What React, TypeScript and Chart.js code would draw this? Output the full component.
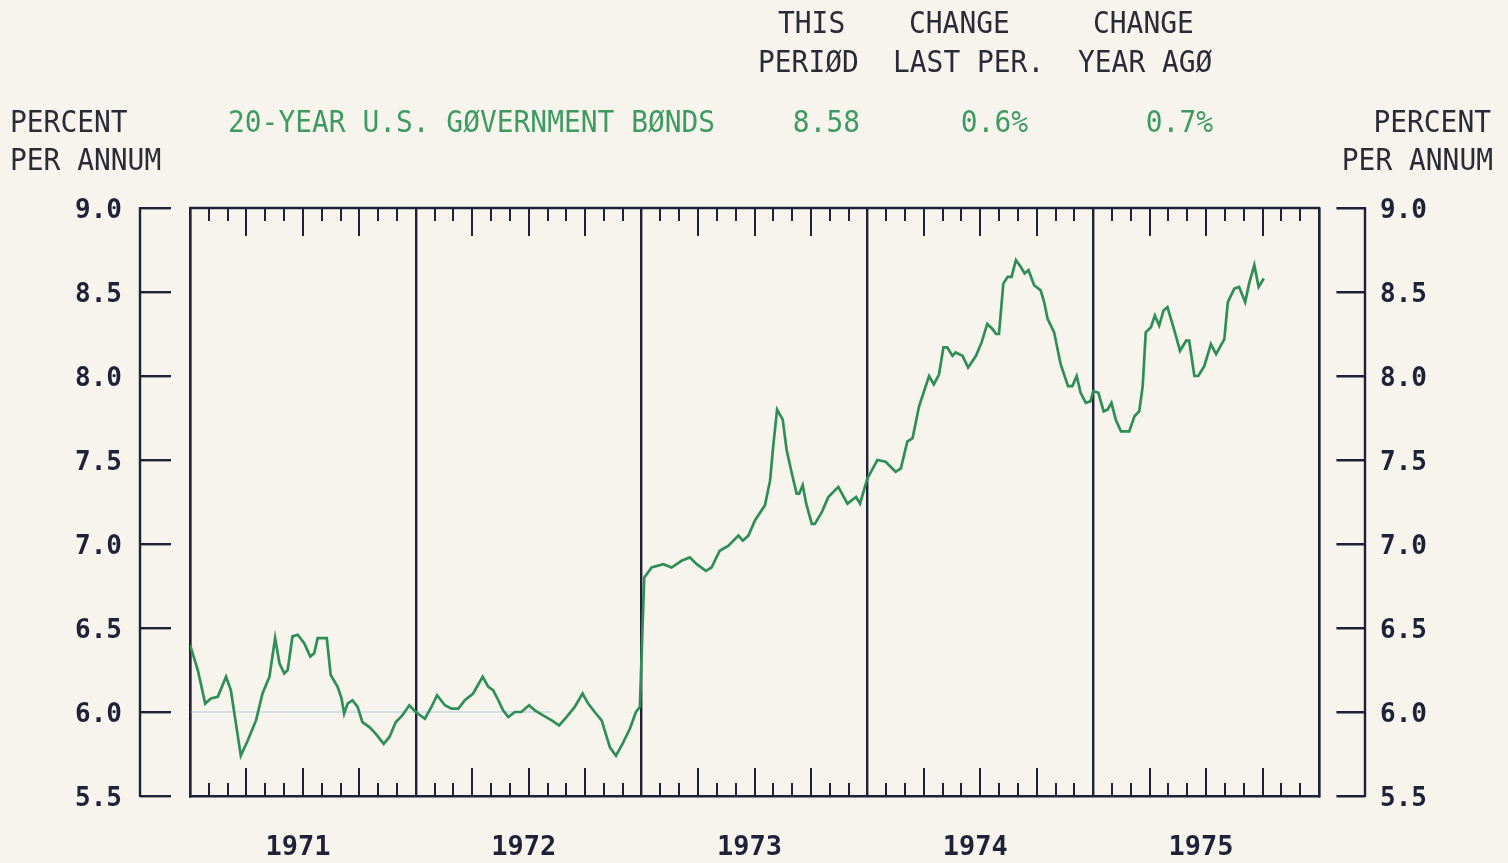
import { useEffect, useRef } from "react";
import { Chart, registerables } from "chart.js";

Chart.register(...registerables);

// ---------------- DATA (week of year, percent per annum) ----------------
const yield1971: [number, number][] = [
  [0, 6.4], [1.8, 6.25], [3.5, 6.05], [4.8, 6.08], [6.4, 6.09], [8.3, 6.21], [9.4, 6.13],
  [11.7, 5.74], [13.3, 5.83], [15.2, 5.95], [16.7, 6.11], [18.3, 6.21], [19.6, 6.44],
  [20.6, 6.29], [21.7, 6.23], [22.5, 6.25], [23.6, 6.45], [24.8, 6.46], [26.3, 6.41],
  [27.7, 6.33], [28.6, 6.35], [29.4, 6.44], [31.5, 6.44], [32.4, 6.22], [34.0, 6.15],
  [34.9, 6.08], [35.5, 5.99], [36.3, 6.05], [37.4, 6.07], [38.6, 6.03], [39.7, 5.94],
  [41.3, 5.91], [42.8, 5.87], [44.6, 5.81], [45.9, 5.85], [47.4, 5.94], [48.9, 5.98],
  [50.5, 6.04],
];
const yield1972: [number, number][] = [
  [0, 6.0], [2.1, 5.96], [3.6, 6.03], [4.9, 6.1], [6.7, 6.04], [8.2, 6.02], [9.8, 6.02],
  [11.3, 6.07], [13.2, 6.11], [15.4, 6.21], [16.7, 6.15], [17.8, 6.13], [19.0, 6.07],
  [20.1, 6.01], [21.3, 5.97], [22.8, 6.0], [24.3, 6.0], [26.1, 6.04], [27.4, 6.01],
  [29.3, 5.98], [31.3, 5.95], [33.0, 5.92], [34.7, 5.97], [36.6, 6.03], [38.4, 6.11],
  [39.7, 6.05], [41.2, 6.0], [42.8, 5.95], [44.7, 5.79], [46.1, 5.74], [47.6, 5.81],
  [49.3, 5.9], [50.7, 6.0], [51.6, 6.03],
];
const yield1973: [number, number][] = [
  [0.6, 6.8], [2.3, 6.86], [5.0, 6.88], [6.9, 6.86], [9.2, 6.9], [11.1, 6.92], [12.7, 6.88],
  [14.8, 6.84], [16.1, 6.86], [18.0, 6.96], [20.0, 6.99], [22.3, 7.05], [23.3, 7.02],
  [24.6, 7.05], [26.1, 7.14], [28.4, 7.23], [29.6, 7.38], [30.3, 7.58], [31.2, 7.8],
  [32.5, 7.74], [33.4, 7.56], [34.6, 7.42], [35.7, 7.3], [36.3, 7.3], [37.1, 7.35],
  [37.9, 7.24], [39.2, 7.12], [39.9, 7.12], [41.5, 7.19], [43.0, 7.28], [45.3, 7.34],
  [47.4, 7.24], [49.4, 7.28], [50.3, 7.24],
];
const yield1974: [number, number][] = [
  [0, 7.39], [2.3, 7.5], [4.2, 7.49], [6.5, 7.43], [7.7, 7.45], [9.2, 7.61], [10.4, 7.63],
  [11.9, 7.82], [14.2, 8.0], [15.3, 7.95], [16.5, 8.01], [17.5, 8.17], [18.4, 8.17],
  [19.6, 8.12], [20.3, 8.14], [21.9, 8.12], [23.2, 8.05], [25.0, 8.12], [26.3, 8.2],
  [27.6, 8.31], [28.8, 8.28], [29.6, 8.25], [30.3, 8.25], [31.3, 8.55], [32.3, 8.59],
  [33.2, 8.59], [34.2, 8.69], [35.3, 8.65], [36.2, 8.61], [37.1, 8.63], [38.4, 8.54],
  [39.9, 8.51], [40.7, 8.44], [41.5, 8.34], [43.0, 8.26], [44.5, 8.07], [46.2, 7.94],
  [47.2, 7.94], [48.2, 8.0], [49.1, 7.9], [50.3, 7.84], [51.4, 7.85],
];
const yield1975: [number, number][] = [
  [0, 7.91], [1.2, 7.9], [2.4, 7.79], [3.3, 7.8], [4.2, 7.84], [5.2, 7.74], [6.4, 7.67],
  [8.3, 7.67], [9.5, 7.76], [10.6, 7.79], [11.4, 7.94], [12.1, 8.26], [13.3, 8.29],
  [14.2, 8.36], [15.2, 8.3], [16.2, 8.39], [17.1, 8.41], [18.7, 8.27], [20.0, 8.15],
  [21.4, 8.21], [22.1, 8.21], [23.3, 8.0], [24.2, 8.0], [25.6, 8.06], [27.1, 8.19],
  [28.3, 8.13], [30.2, 8.22], [31.0, 8.44], [32.5, 8.52], [33.6, 8.53], [35.0, 8.44],
  [35.9, 8.55], [37.1, 8.66], [38.1, 8.53], [39.3, 8.58],
];

const years = [1971, 1972, 1973, 1974, 1975];
const yearSeries = [yield1971, yield1972, yield1973, yield1974, yield1975];
const yTickValues = [5.5, 6.0, 6.5, 7.0, 7.5, 8.0, 8.5, 9.0];
const monthsPerYear = 12;
const guideLevel = 6.0;
const guideSpan = [1971.0, 1972.6];

const headerTitle = "20-YEAR U.S. GØVERNMENT BØNDS";
const columnTop = ["THIS", "CHANGE", "CHANGE"];
const columnBottom = ["PERIØD", "LAST PER.", "YEAR AGØ"];
const columnValues = ["8.58", "0.6%", "0.7%"];
const unitLines = ["PERCENT", "PER ANNUM"];

// ---------------- STYLE ----------------
const PAPER = "#f6f4ec";
const INK = "#1f2136";
const GREEN = "#2f8e57";
const TEXT_GREEN = "#3f9a62";
const TEXT_INK = "#2a2b36";
const MONO = '"DejaVu Sans Mono", monospace';
const AXIS_W = 2.4;

function drawLabel(
  ctx: CanvasRenderingContext2D,
  text: string,
  x: number,
  y: number,
  align: CanvasTextAlign,
  color: string
) {
  ctx.save();
  ctx.font = `30px ${MONO}`;
  ctx.fillStyle = color;
  ctx.textBaseline = "alphabetic";
  ctx.textAlign = align;
  ctx.translate(x, y);
  ctx.scale(0.93, 1);
  ctx.fillText(text, 0, 0);
  ctx.restore();
}

const framePlugin = {
  id: "frame",
  beforeDraw(chart: any) {
    const { ctx, width, height } = chart;
    ctx.save();
    ctx.fillStyle = PAPER;
    ctx.fillRect(0, 0, width, height);
    ctx.restore();
  },
  afterDraw(chart: any) {
    const { ctx, chartArea } = chart;
    const xs = chart.scales.x;
    const yl = chart.scales.y;
    const yr = chart.scales.y2;
    const top = chartArea.top;
    const bottom = chartArea.bottom;
    ctx.save();
    ctx.strokeStyle = INK;
    ctx.lineWidth = AXIS_W;
    // top border of the box
    ctx.beginPath();
    ctx.moveTo(chartArea.left - 1, top);
    ctx.lineTo(chartArea.right + 1, top);
    ctx.stroke();
    // monthly ticks inside the box
    ctx.lineWidth = 2;
    years.forEach((yr0) => {
      for (let m = 1; m < monthsPerYear; m++) {
        const px = Math.round(xs.getPixelForValue(yr0 + m / monthsPerYear));
        const len = m % 3 === 0 ? 28 : 13;
        ctx.beginPath();
        ctx.moveTo(px, bottom);
        ctx.lineTo(px, bottom - len);
        ctx.moveTo(px, top);
        ctx.lineTo(px, top + len);
        ctx.stroke();
      }
    });
    // detached outer axis lines
    ctx.lineWidth = AXIS_W;
    const yTop = yl.getPixelForValue(yTickValues[yTickValues.length - 1]);
    const yBot = yl.getPixelForValue(yTickValues[0]);
    const lx = yl.right - 50;
    const rx = yr.left + 46;
    ctx.beginPath();
    ctx.moveTo(lx, yTop - 1);
    ctx.lineTo(lx, yBot + 1);
    ctx.moveTo(rx, yTop - 1);
    ctx.lineTo(rx, yBot + 1);
    ctx.stroke();
    ctx.restore();

    // header texts
    drawLabel(ctx, columnTop[0], 778, 33, "left", TEXT_INK);
    drawLabel(ctx, columnTop[1], 909, 33, "left", TEXT_INK);
    drawLabel(ctx, columnTop[2], 1093, 33, "left", TEXT_INK);
    drawLabel(ctx, columnBottom[0], 758, 72, "left", TEXT_INK);
    drawLabel(ctx, columnBottom[1], 893, 72, "left", TEXT_INK);
    drawLabel(ctx, columnBottom[2], 1078, 72, "left", TEXT_INK);
    drawLabel(ctx, unitLines[0], 10, 132, "left", TEXT_INK);
    drawLabel(ctx, unitLines[1], 10, 170, "left", TEXT_INK);
    drawLabel(ctx, unitLines[0], 1491, 132, "right", TEXT_INK);
    drawLabel(ctx, unitLines[1], 1493, 170, "right", TEXT_INK);
    drawLabel(ctx, headerTitle, 228, 132, "left", TEXT_GREEN);
    drawLabel(ctx, columnValues[0], 860, 132, "right", TEXT_GREEN);
    drawLabel(ctx, columnValues[1], 1028, 132, "right", TEXT_GREEN);
    drawLabel(ctx, columnValues[2], 1213, 132, "right", TEXT_GREEN);
  },
};

export default function App() {
  const canvasRef = useRef<HTMLCanvasElement | null>(null);

  useEffect(() => {
    document.body.style.margin = "0";
    document.body.style.background = PAPER;
    const canvas = canvasRef.current;
    if (!canvas) return;

    const points = yearSeries.flatMap((series, i) =>
      series.map(([week, value]) => ({ x: years[i] + week / 52, y: value }))
    );
    const guide = guideSpan.map((x) => ({ x, y: guideLevel }));
    const xTickValues: number[] = [];
    years.forEach((y) => xTickValues.push(y, y + 0.5));
    xTickValues.push(years[years.length - 1] + 1);

    const yFont = { family: MONO, size: 26, weight: "bold" as const };

    const chart = new Chart(canvas, {
      type: "line",
      data: {
        datasets: [
          {
            label: "20-YEAR U.S. GOVERNMENT BONDS",
            data: points,
            borderColor: GREEN,
            borderWidth: 2.7,
            pointRadius: 0,
            tension: 0,
            fill: false,
            yAxisID: "y",
          },
          {
            label: "guide",
            data: guide,
            borderColor: "rgba(120,170,205,0.55)",
            borderWidth: 1,
            pointRadius: 0,
            fill: false,
            yAxisID: "y",
          },
        ],
      },
      options: {
        animation: false,
        responsive: false,
        maintainAspectRatio: false,
        layout: { padding: { top: 208, left: 0, right: 0, bottom: 0 } },
        plugins: {
          legend: { display: false },
          tooltip: { enabled: false },
          title: { display: false },
        },
        scales: {
          x: {
            type: "linear",
            position: "bottom",
            min: years[0],
            max: years[years.length - 1] + 1,
            afterBuildTicks: (s: any) => {
              s.ticks = xTickValues.map((value) => ({ value }));
            },
            afterFit: (s: any) => {
              s.height = 67;
            },
            grid: {
              drawOnChartArea: true,
              drawTicks: false,
              color: (c: any) =>
                c.tick && c.tick.value % 1 === 0 ? INK : "rgba(0,0,0,0)",
              lineWidth: AXIS_W,
            },
            border: { display: true, color: INK, width: AXIS_W },
            ticks: {
              autoSkip: false,
              maxRotation: 0,
              padding: 36,
              labelOffset: -5,
              color: INK,
              font: { family: MONO, size: 27, weight: "bold" },
              callback: (v: any) =>
                Number(v) % 1 === 0.5 ? String(Math.floor(Number(v))) : "",
            },
          },
          y: {
            type: "linear",
            position: "left",
            min: yTickValues[0],
            max: yTickValues[yTickValues.length - 1],
            afterBuildTicks: (s: any) => {
              s.ticks = yTickValues.map((value) => ({ value }));
            },
            afterFit: (s: any) => {
              s.width = 190;
            },
            grid: {
              drawOnChartArea: false,
              drawTicks: true,
              tickLength: 50,
              tickBorderDash: [31, 200],
              tickColor: INK,
              tickWidth: AXIS_W,
              color: INK,
              lineWidth: AXIS_W,
            },
            border: { display: true, color: INK, width: AXIS_W },
            ticks: {
              padding: 18,
              labelOffset: 3,
              color: INK,
              font: yFont,
              callback: (v: any) => Number(v).toFixed(1),
            },
          },
          y2: {
            type: "linear",
            position: "right",
            min: yTickValues[0],
            max: yTickValues[yTickValues.length - 1],
            afterBuildTicks: (s: any) => {
              s.ticks = yTickValues.map((value) => ({ value }));
            },
            afterFit: (s: any) => {
              s.width = 189;
            },
            grid: {
              drawOnChartArea: false,
              drawTicks: true,
              tickLength: 46,
              tickBorderDash: [0, 16, 30, 200],
              tickColor: INK,
              tickWidth: AXIS_W,
              color: INK,
              lineWidth: AXIS_W,
            },
            border: { display: true, color: INK, width: AXIS_W },
            ticks: {
              padding: 15,
              labelOffset: 3,
              color: INK,
              font: yFont,
              callback: (v: any) => Number(v).toFixed(1),
            },
          },
        },
      },
      plugins: [framePlugin],
    } as any);

    return () => chart.destroy();
  }, []);

  return (
    <div style={{ width: 1508, height: 863, background: PAPER }}>
      <canvas ref={canvasRef} width={1508} height={863} style={{ display: "block" }} />
    </div>
  );
}
